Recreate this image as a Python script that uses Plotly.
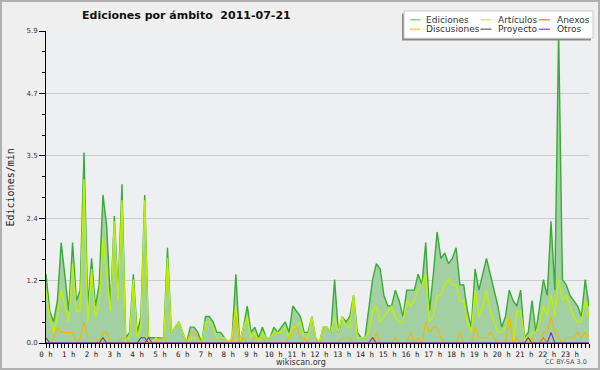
import plotly.graph_objects as go

# ---- data: edits per minute, 10-minute slots, 2011-07-21 ----
ediciones = [1.3,0.6,0.4,0.8,1.9,1.2,0.6,1.9,0.8,1.0, 3.6,0.7,1.6,0.7,1.1,2.8,2.2,0.7,2.4,0.9,
             3.0,0.1,0.2,1.3,0.2,0.5,2.8,0.1,0.1,0.1, 0.1,0.1,1.8,0.2,0.3,0.4,0.2,0.0,0.3,0.3,
             0.2,0.0,0.5,0.5,0.4,0.2,0.2,0.1,0.0,0.1, 1.3,0.0,0.3,0.7,0.2,0.3,0.1,0.3,0.1,0.1,
             0.3,0.2,0.3,0.4,0.2,0.7,0.6,0.5,0.2,0.2, 0.5,0.1,0.0,0.3,0.3,0.2,1.2,0.2,0.5,0.4,
             0.5,0.9,0.2,0.1,0.1,0.6,1.2,1.5,1.4,0.9, 0.7,0.7,1.0,0.8,0.5,1.0,1.0,1.0,1.3,1.1,
             1.9,0.6,1.3,2.1,1.6,1.7,1.5,1.6,1.8,1.1, 1.1,0.6,0.3,1.4,1.0,1.3,1.6,1.3,1.0,0.7,
             0.3,0.5,1.0,0.8,0.7,1.0,0.1,0.2,0.8,0.2, 0.7,1.2,0.9,2.3,1.0,5.9,1.2,1.1,0.9,0.8,
             0.7,0.5,1.2,0.7]
articulos = [1.0,0.5,0.2,0.5,1.0,0.7,0.4,1.5,0.6,0.6, 3.1,0.4,1.4,0.5,0.7,2.0,1.3,0.6,2.3,0.8,
             2.7,0.0,0.1,1.2,0.1,0.3,2.7,0.0,0.0,0.1, 0.0,0.0,1.6,0.2,0.3,0.4,0.2,0.0,0.1,0.1,
             0.1,0.0,0.4,0.4,0.3,0.1,0.1,0.1,0.0,0.1, 0.7,0.0,0.3,0.5,0.1,0.2,0.0,0.2,0.1,0.1,
             0.2,0.2,0.2,0.3,0.1,0.3,0.3,0.4,0.1,0.1, 0.5,0.1,0.0,0.3,0.3,0.2,0.5,0.2,0.5,0.3,
             0.3,0.9,0.1,0.1,0.1,0.2,0.6,0.7,0.4,0.5, 0.6,0.7,0.5,0.4,0.4,0.8,0.7,0.8,1.0,1.1,
             1.3,0.4,0.5,0.9,0.9,1.1,1.2,1.1,1.1,0.8, 0.8,0.4,0.2,1.0,0.5,0.7,1.0,0.6,0.4,0.2,
             0.2,0.3,0.5,0.0,0.6,0.6,0.1,0.0,0.2,0.2, 0.4,0.7,0.5,0.9,0.5,1.2,0.8,0.9,0.7,0.5,
             0.4,0.4,0.8,0.5]
discusiones = [0.0,0.0,0.1,0.3,0.2,0.2,0.2,0.2,0.0,0.1, 0.4,0.1,0.1,0.1,0.0,0.2,0.2,0.0,0.0,0.0,
               0.1,0.1,0.0,0.0,0.0,0.0,0.0,0.0,0.0,0.0, 0.1,0.1,0.0,0.0,0.0,0.0,0.0,0.0,0.2,0.2,
               0.1,0.0,0.0,0.0,0.0,0.0,0.0,0.0,0.0,0.0, 0.5,0.0,0.1,0.0,0.0,0.1,0.1,0.1,0.0,0.0,
               0.0,0.0,0.0,0.0,0.1,0.2,0.3,0.1,0.1,0.0, 0.0,0.0,0.0,0.0,0.0,0.0,0.0,0.0,0.1,0.1,
               0.1,0.0,0.0,0.0,0.0,0.0,0.0,0.2,0.0,0.0, 0.0,0.0,0.1,0.0,0.0,0.0,0.2,0.0,0.1,0.0,
               0.4,0.2,0.3,0.3,0.1,0.0,0.0,0.0,0.0,0.2, 0.0,0.0,0.0,0.3,0.1,0.1,0.1,0.2,0.1,0.0,
               0.0,0.0,0.5,0.0,0.1,0.0,0.0,0.0,0.1,0.0, 0.0,0.2,0.2,0.5,0.2,0.1,0.0,0.1,0.1,0.1,
               0.2,0.1,0.2,0.1]
proyecto = [0.1] + [0.0]*14 + [0.1] + [0.0]*9 + [0.1,0.1] + [0.0]*59 + [0.1] + [0.0]*40 + [0.1] + [0.0]*16
otros = [0.0]*27 + [0.1] + [0.0]*105 + [0.2] + [0.0]*10
anexos = [0.0]*131 + [0.1] + [0.0]*12

hour_labels = [f"{h} h" for h in range(24)]
y_tick_vals = [0.0, 1.18, 2.36, 3.54, 4.72, 5.9]
y_tick_text = ["0.0", "1.2", "2.4", "3.5", "4.7", "5.9"]

legend_items = [("Ediciones", "#77cc77"), ("Artículos", "#ccee44"), ("Anexos", "#ff7744"),
                ("Discusiones", "#ffcc33"), ("Proyecto", "#666666"), ("Otros", "#9944ff")]

hours = [i / 6 for i in range(len(ediciones))]

W, H = 600, 370
ML, MR, MT, MB = 46, 11, 31, 27
PW, PH = W - ML - MR, H - MT - MB


def px(x):
    return (x - ML) / PW


def py(y):
    return (H - MB - y) / PH


fig = go.Figure()
fig.add_trace(go.Scatter(x=hours, y=ediciones, mode="lines", fill="tozeroy",
                         fillcolor="#a2d0a2", line=dict(color="#38ac38", width=1.4),
                         name="Ediciones", showlegend=False))
fig.add_trace(go.Scatter(x=hours, y=articulos, mode="lines",
                         line=dict(color="#c0f000", width=1.4), name="Artículos", showlegend=False))
fig.add_trace(go.Scatter(x=hours, y=discusiones, mode="lines",
                         line=dict(color="#f2b600", width=1.1), name="Discusiones", showlegend=False))
fig.add_trace(go.Scatter(x=hours, y=anexos, mode="lines",
                         line=dict(color="#ff6633", width=1.1), name="Anexos", showlegend=False))
fig.add_trace(go.Scatter(x=hours, y=proyecto, mode="lines",
                         line=dict(color="#555555", width=1.1), name="Proyecto", showlegend=False))
fig.add_trace(go.Scatter(x=hours, y=otros, mode="lines",
                         line=dict(color="#7733dd", width=1.2), name="Otros", showlegend=False))

shapes = []
annotations = []

# outer border
shapes.append(dict(type="rect", xref="paper", yref="paper",
                   x0=px(1), x1=px(599), y0=py(369), y1=py(1),
                   line=dict(color="#b0b0b0", width=2), fillcolor="rgba(0,0,0,0)", layer="above"))

# legend box with shadow
shapes.append(dict(type="rect", xref="paper", yref="paper",
                   x0=px(402), x1=px(591), y0=py(40.5), y1=py(13.5),
                   line=dict(width=0), fillcolor="#8a8a8a", layer="above"))
shapes.append(dict(type="rect", xref="paper", yref="paper",
                   x0=px(404), x1=px(593), y0=py(38.3), y1=py(11),
                   line=dict(color="#c8c8c8", width=1), fillcolor="#ffffff", layer="above"))

col_line_x = [(410, 420.5), (480.5, 491.5), (539, 550)]
col_text_x = [424, 496, 555]
row_y = [19.8, 29.2]
for k, (label, color) in enumerate(legend_items):
    r, c = divmod(k, 3)
    x0, x1 = col_line_x[c]
    shapes.append(dict(type="line", xref="paper", yref="paper",
                       x0=px(x0), x1=px(x1), y0=py(row_y[r]), y1=py(row_y[r]),
                       line=dict(color=color, width=1.3), layer="above"))
    annotations.append(dict(text=label, xref="paper", yref="paper",
                            x=px(col_text_x[c]), y=py(row_y[r]), xanchor="left", yanchor="middle",
                            showarrow=False, font=dict(family="DejaVu Sans", size=9, color="#333333")))

# title
annotations.append(dict(text="<b>Ediciones por ámbito  2011-07-21</b>", xref="paper", yref="paper",
                        x=px(186), y=py(16), xanchor="center", yanchor="middle", showarrow=False,
                        font=dict(family="DejaVu Sans", size=11, color="#111111")))
# y axis title
annotations.append(dict(text="Ediciones/min", xref="paper", yref="paper",
                        x=px(9.5), y=py(188), xanchor="center", yanchor="middle", textangle=-90,
                        showarrow=False, font=dict(family="DejaVu Sans Mono", size=10, color="#222222")))
# footer texts
annotations.append(dict(text="wikiscan.org", xref="paper", yref="paper",
                        x=px(301), y=py(362), xanchor="center", yanchor="middle", showarrow=False,
                        font=dict(family="DejaVu Sans", size=8, color="#333333")))
annotations.append(dict(text="CC BY-SA 3.0", xref="paper", yref="paper",
                        x=px(589), y=py(362), xanchor="right", yanchor="middle", showarrow=False,
                        font=dict(family="DejaVu Sans", size=6.5, color="#555555")))

x_minor = [i / 6 for i in range(len(ediciones)) if i % 6]
y_minor = []
for a, b in zip(y_tick_vals[:-1], y_tick_vals[1:]):
    y_minor += [a + (b - a) / 3, a + 2 * (b - a) / 3]

fig.update_layout(
    width=W, height=H,
    margin=dict(l=ML, r=MR, t=MT, b=MB, pad=0),
    paper_bgcolor="#efefef", plot_bgcolor="#eeeff0",
    shapes=shapes, annotations=annotations,
    xaxis=dict(range=[0, hours[-1]], tickmode="array", tickvals=list(range(24)), ticktext=hour_labels,
               showgrid=False, zeroline=False, showline=True, linecolor="#000000", linewidth=1,
               ticks="outside", ticklen=4, tickcolor="#000000", tickwidth=1,
               tickfont=dict(family="DejaVu Sans Mono", size=7.5, color="#222222"),
               minor=dict(tickvals=x_minor, ticks="outside", ticklen=4, tickcolor="#000000", tickwidth=1),
               fixedrange=True),
    yaxis=dict(range=[0, 5.9], tickmode="array", tickvals=y_tick_vals, ticktext=y_tick_text,
               showgrid=True, gridcolor="#cccccc", gridwidth=1, zeroline=False,
               showline=True, linecolor="#000000", linewidth=1,
               ticks="outside", ticklen=6, tickcolor="#000000", tickwidth=1,
               tickfont=dict(family="DejaVu Sans", size=7, color="#333333"),
               minor=dict(tickvals=y_minor, ticks="outside", ticklen=3, tickcolor="#000000", tickwidth=1),
               fixedrange=True),
    showlegend=False,
)

fig.write_html("out.html", config={"displayModeBar": False},
               post_script="document.body.style.margin='0';document.body.style.padding='0';"
                           "document.body.style.overflow='hidden';")
